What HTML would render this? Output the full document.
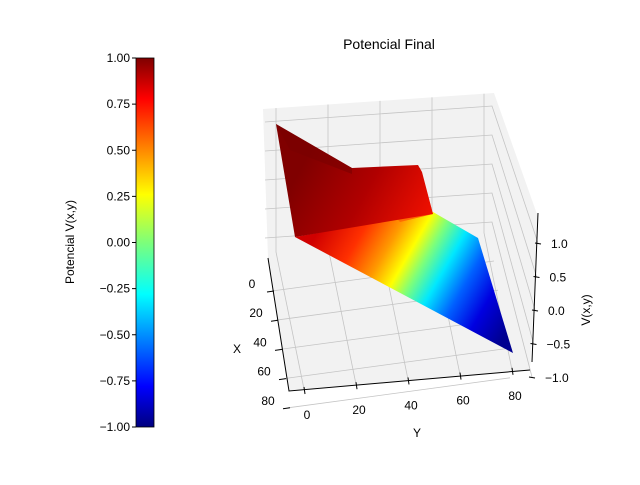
<!DOCTYPE html>
<html><head><meta charset="utf-8"><style>
body{margin:0;background:#fff;}
svg text{font-family:"Liberation Sans",sans-serif;fill:#000;}
</style></head><body>
<svg id="c" width="640" height="480" xmlns="http://www.w3.org/2000/svg">
<defs>
<linearGradient id="jetv" x1="0" y1="1" x2="0" y2="0">
<stop offset="0" stop-color="#00007f"/><stop offset="0.11" stop-color="#0000ff"/><stop offset="0.36" stop-color="#00ffff"/><stop offset="0.5" stop-color="#7dff7a"/><stop offset="0.63" stop-color="#ffff00"/><stop offset="0.89" stop-color="#ff0000"/><stop offset="1" stop-color="#7f0000"/>
</linearGradient>
<linearGradient id="slope" gradientUnits="userSpaceOnUse" x1="320" y1="228" x2="505" y2="335">
<stop offset="0" stop-color="#d00000"/><stop offset="0.18" stop-color="#ff3000"/><stop offset="0.32" stop-color="#ff9a00"/><stop offset="0.42" stop-color="#ffff00"/><stop offset="0.5" stop-color="#7dff7a"/><stop offset="0.6" stop-color="#00e8ff"/><stop offset="0.72" stop-color="#0060ff"/><stop offset="0.85" stop-color="#0000e0"/><stop offset="1" stop-color="#000090"/>
</linearGradient>
<linearGradient id="back" gradientUnits="userSpaceOnUse" x1="300" y1="170" x2="420" y2="235">
<stop offset="0" stop-color="#800000"/><stop offset="0.5" stop-color="#b00000"/><stop offset="1" stop-color="#f01000"/>
</linearGradient>
</defs>
<text x="389" y="49" font-size="14" text-anchor="middle">Potencial Final</text>
<polygon points="263,109 494,93 538,217 530,370 289,391 268,258" fill="#f2f2f2"/>
<g id="grid" stroke="#c4c4c4" stroke-width="0.8" fill="none"></g>
<polygon points="295,237 433,212 478,238 513,353" fill="url(#slope)"/>
<polygon points="352,170 420,168 433,214 400,222" fill="#ff6a00"/>
<polygon points="276,124 352,168 418,165 422,172 433,214 295,237" fill="url(#back)"/>
<polygon points="276,124 352,168 352,174 290,150" fill="#7a0000" opacity="0.6"/>
<g id="axes"></g>
<rect x="136" y="58" width="18" height="369" fill="url(#jetv)" stroke="#000" stroke-width="0.8"/>
<g id="cbticks"></g>
<text transform="translate(74,242) rotate(-90)" font-size="12" text-anchor="middle">Potencial V(x,y)</text>
<text x="237" y="353" font-size="12" text-anchor="middle">X</text>
<text x="417" y="437" font-size="12" text-anchor="middle">Y</text>
<text transform="translate(590,310) rotate(-90)" font-size="12" text-anchor="middle">V(x,y)</text>
</svg>
<script>
var xTicks=[0,20,40,60,80];
var yTicks=[0,20,40,60,80];
var zTicks=[1.0,0.5,0.0,-0.5,-1.0];
var zLabels=["1.0","0.5","0.0","\u22120.5","\u22121.0"];
var cbTicks=[1,0.75,0.5,0.25,0,-0.25,-0.5,-0.75,-1];
var cbLabels=["1.00","0.75","0.50","0.25","0.00","\u22120.25","\u22120.50","\u22120.75","\u22121.00"];
var NS="http://www.w3.org/2000/svg";
function mk(t,a,p){var e=document.createElementNS(NS,t);for(var k in a)e.setAttribute(k,a[k]);p.appendChild(e);return e;}
function xPos(v){return [272+v*0.2,291+v*1.46];}
function yPos(v){return [304+v*2.6,389-v*0.24];}
function zPos(v){return [535+v*3,310-v*67];}
function backLeftY(v){return 180-v*58;}
function cbY(v){return 242.5-v*184.5;}
var g=document.getElementById('grid'),ax=document.getElementById('axes'),cb=document.getElementById('cbticks');
xTicks.forEach(function(v){var p=xPos(v);
var l=mk('line',{x1:p[0],y1:p[1],x2:p[0]+222,y2:p[1]-30},g);

var t=mk('line',{x1:p[0]-5,y1:p[1]+1,x2:p[0]+2,y2:p[1]},ax);t.setAttribute('stroke','#000');

var s=mk('text',{x:p[0]-20,y:p[1]-3,'font-size':12,'text-anchor':'middle'},ax);s.textContent=v;
});
yTicks.forEach(function(v){var p=yPos(v);
var bx=p[0]-28,by=p[1]-137;
var l=mk('polyline',{points:p[0]+','+p[1]+' '+bx+','+by+' '+bx+','+(109-(bx-263)*0.069)},g);

var t=mk('line',{x1:p[0],y1:p[1]-2,x2:p[0]+1,y2:p[1]+5},ax);t.setAttribute('stroke','#000');

var s=mk('text',{x:p[0]+3,y:p[1]+30,'font-size':12,'text-anchor':'middle'},ax);s.textContent=v;
});
zTicks.forEach(function(v,i){var p=zPos(v);
var ly=backLeftY(v);
var l=mk('polyline',{points:p[0]+','+p[1]+' 492,'+(ly-16)+' 265,'+ly},g);

var t=mk('line',{x1:p[0]-3,y1:p[1],x2:p[0]+3,y2:p[1]+1},ax);t.setAttribute('stroke','#000');

var s=mk('text',{x:p[0]+13,y:p[1]+5,'font-size':12,'text-anchor':'start'},ax);s.textContent=zLabels[i];
});
var a1=mk('polyline',{points:'268,258 289,391 530,370',fill:'none',stroke:'#000','stroke-width':1},ax);

var a2=mk('line',{x1:538,y1:213,x2:532,y2:362,stroke:'#000','stroke-width':1},ax);

cbTicks.forEach(function(v,i){var y=cbY(v);
var t=mk('line',{x1:132,y1:y,x2:136,y2:y,stroke:'#000'},cb);

var s=mk('text',{x:130,y:y+4,'font-size':12,'text-anchor':'end'},cb);s.textContent=cbLabels[i];
});
</script>
</body></html>
